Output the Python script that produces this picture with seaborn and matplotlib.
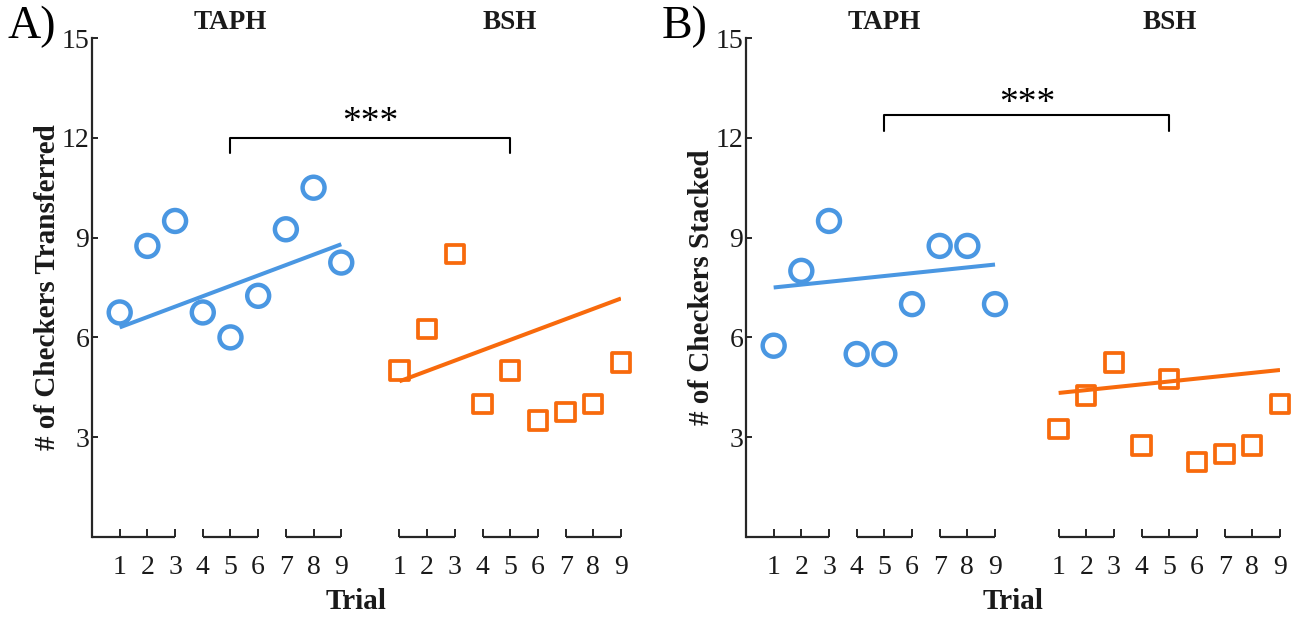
import numpy as np
import pandas as pd
import matplotlib
matplotlib.use("Agg")
import matplotlib.pyplot as plt
import seaborn as sns

# ---------------- data ----------------
trials = [1, 2, 3, 4, 5, 6, 7, 8, 9]
tick_labels = ["1", "2", "3", "4", "5", "6", "7", "8", "9"]
groups = ["TAPH", "BSH"]

# Panel A: checkers transferred
a_taph = [6.75, 8.75, 9.5, 6.75, 6.0, 7.25, 9.25, 10.5, 8.25]
a_bsh = [5.0, 6.25, 8.5, 4.0, 5.0, 3.5, 3.75, 4.0, 5.25]
a_taph_fit = [6.3, 8.8]     # fit line value at trial 1 and trial 9
a_bsh_fit = [4.68, 7.17]

# Panel B: checkers stacked
b_taph = [5.75, 8.0, 9.5, 5.5, 5.5, 7.0, 8.75, 8.75, 7.0]
b_bsh = [3.25, 4.25, 5.25, 2.75, 4.75, 2.25, 2.5, 2.75, 4.0]
b_taph_fit = [7.5, 8.19]
b_bsh_fit = [4.33, 5.02]

sig_label = "***"
y_ticks = [3, 6, 9, 12, 15]

# ---------------- style ----------------
sns.set_theme(style="ticks")
plt.rcParams["font.family"] = ["Liberation Serif", "DejaVu Serif"]

BLUE = "#4A97E2"
ORANGE = "#F86A0C"
AX_COLOR = "#262626"
TXT = "#1a1a1a"

fig = plt.figure(figsize=(12.93, 6.18), dpi=100)

panels = [
    dict(rect=[92 / 1293, 1 - 537 / 618, 529 / 1293, 499 / 618], offset=10.1, xmax=19.1,
         taph=a_taph, bsh=a_bsh, tfit=a_taph_fit, bfit=a_bsh_fit,
         ylabel="# of Checkers Transferred", letter="A)", letter_x=8 / 1293,
         br_top=12.0, br_bot=11.55, star_dy=0.17),
    dict(rect=[746 / 1293, 1 - 537 / 618, 534 / 1293, 499 / 618], offset=10.3, xmax=19.3,
         taph=b_taph, bsh=b_bsh, tfit=b_taph_fit, bfit=b_bsh_fit,
         ylabel="# of Checkers Stacked", letter="B)", letter_x=662 / 1293,
         br_top=12.68, br_bot=12.2, star_dy=0.08),
]

for p in panels:
    ax = fig.add_axes(p["rect"])
    off = p["offset"]
    x_t = np.array(trials, dtype=float)
    x_b = x_t + off
    df = pd.DataFrame({
        "x": np.concatenate([x_t, x_b]),
        "y": np.concatenate([p["taph"], p["bsh"]]),
        "group": [groups[0]] * 9 + [groups[1]] * 9,
    })
    dft = df[df.group == "TAPH"]
    dfb = df[df.group == "BSH"]

    # fit lines
    sns.lineplot(x=[x_t[0], x_t[-1]], y=p["tfit"], ax=ax, color=BLUE, lw=2.9,
                 solid_capstyle="butt", zorder=2)
    sns.lineplot(x=[x_b[0], x_b[-1]], y=p["bfit"], ax=ax, color=ORANGE, lw=2.9,
                 solid_capstyle="butt", zorder=2)

    # markers
    sns.scatterplot(data=dft, x="x", y="y", ax=ax, marker="o", s=15.8 ** 2,
                    facecolors="none", edgecolor=BLUE, linewidth=3.2, zorder=3,
                    clip_on=False)
    sns.scatterplot(data=dfb, x="x", y="y", ax=ax, marker="s", s=13.2 ** 2,
                    facecolors="none", edgecolor=ORANGE, linewidth=2.7, zorder=3,
                    clip_on=False)

    ax.set_xlim(0, p["xmax"])
    ax.set_ylim(0, 15)

    # axes styling
    for s in ["top", "right", "bottom"]:
        ax.spines[s].set_visible(False)
    ax.spines["left"].set_color(AX_COLOR)
    ax.spines["left"].set_linewidth(1.6)

    ax.set_yticks(y_ticks)
    ax.set_yticklabels([str(v) for v in y_ticks])
    ax.tick_params(axis="y", direction="in", length=4, width=1.4, color=AX_COLOR,
                   labelsize=20, pad=2, labelcolor=TXT)

    ax.set_xticks(np.concatenate([x_t, x_b]))
    ax.set_xticklabels(tick_labels + tick_labels)
    ax.tick_params(axis="x", direction="in", length=5.5, width=1.4, color=AX_COLOR,
                   labelsize=20, pad=13, labelcolor=TXT)

    # broken x-axis segments
    segs = [(0, 3), (4, 6), (7, 9), (1 + off, 3 + off), (4 + off, 6 + off), (7 + off, 9 + off)]
    for a, b in segs:
        ax.plot([a, b], [0, 0], color=AX_COLOR, lw=1.6, clip_on=False, zorder=5,
                solid_capstyle="butt")

    ax.set_xlabel("Trial", fontsize=21, fontweight="bold", labelpad=6, color=TXT)
    ax.set_ylabel(p["ylabel"], fontsize=21, fontweight="bold", labelpad=0, color=TXT)

    # group titles
    ax.text(5, 15.47, groups[0], ha="center", va="center", fontsize=19.5,
            fontweight="bold", color=TXT, clip_on=False)
    ax.text(5 + off, 15.47, groups[1], ha="center", va="center", fontsize=19.5,
            fontweight="bold", color=TXT, clip_on=False)

    # significance bracket
    ax.plot([5, 5, 5 + off, 5 + off], [p["br_bot"], p["br_top"], p["br_top"], p["br_bot"]],
            color="black", lw=1.5, clip_on=False)
    ax.text((10 + off) / 2, p["br_top"] + p["star_dy"], sig_label, ha="center",
            va="baseline", fontsize=27, color="black", clip_on=False)

    fig.text(p["letter_x"], 1 - 27 / 618, p["letter"], ha="left", va="center",
             fontsize=33, color="black")

    if ax.get_legend() is not None:
        ax.get_legend().remove()

fig.savefig("out.png", dpi=100, facecolor="white")
